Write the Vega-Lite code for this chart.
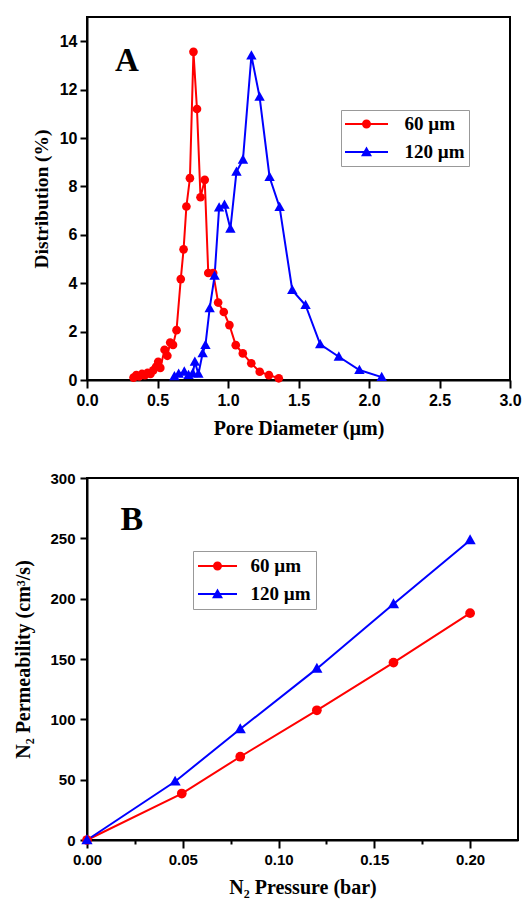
{
  "$schema": "https://vega.github.io/schema/vega-lite/v6.json",
  "autosize": {"type": "none"},
  "padding": {"left": 87, "top": 17, "right": 442, "bottom": 884},
  "background": "white",
  "bounds": "flush",
  "spacing": 98,
  "datasets": {
    "dist": [
      {"series": "60 µm", "d": 0.33, "p": 0.10},
      {"series": "60 µm", "d": 0.35, "p": 0.20},
      {"series": "60 µm", "d": 0.37, "p": 0.15},
      {"series": "60 µm", "d": 0.39, "p": 0.25},
      {"series": "60 µm", "d": 0.41, "p": 0.20},
      {"series": "60 µm", "d": 0.43, "p": 0.30},
      {"series": "60 µm", "d": 0.45, "p": 0.25},
      {"series": "60 µm", "d": 0.47, "p": 0.40},
      {"series": "60 µm", "d": 0.49, "p": 0.55},
      {"series": "60 µm", "d": 0.505, "p": 0.75},
      {"series": "60 µm", "d": 0.52, "p": 0.50},
      {"series": "60 µm", "d": 0.55, "p": 1.25},
      {"series": "60 µm", "d": 0.57, "p": 1.00},
      {"series": "60 µm", "d": 0.59, "p": 1.55},
      {"series": "60 µm", "d": 0.61, "p": 1.45},
      {"series": "60 µm", "d": 0.635, "p": 2.06},
      {"series": "60 µm", "d": 0.665, "p": 4.17},
      {"series": "60 µm", "d": 0.685, "p": 5.40},
      {"series": "60 µm", "d": 0.705, "p": 7.17},
      {"series": "60 µm", "d": 0.73, "p": 8.34},
      {"series": "60 µm", "d": 0.755, "p": 13.56},
      {"series": "60 µm", "d": 0.78, "p": 11.2},
      {"series": "60 µm", "d": 0.805, "p": 7.55},
      {"series": "60 µm", "d": 0.835, "p": 8.27},
      {"series": "60 µm", "d": 0.86, "p": 4.42},
      {"series": "60 µm", "d": 0.895, "p": 4.42},
      {"series": "60 µm", "d": 0.93, "p": 3.2},
      {"series": "60 µm", "d": 0.97, "p": 2.81},
      {"series": "60 µm", "d": 1.01, "p": 2.27},
      {"series": "60 µm", "d": 1.055, "p": 1.44},
      {"series": "60 µm", "d": 1.105, "p": 1.10},
      {"series": "60 µm", "d": 1.165, "p": 0.69},
      {"series": "60 µm", "d": 1.225, "p": 0.34},
      {"series": "60 µm", "d": 1.29, "p": 0.20},
      {"series": "60 µm", "d": 1.36, "p": 0.07},
      {"series": "120 µm", "d": 0.62, "p": 0.15},
      {"series": "120 µm", "d": 0.65, "p": 0.25},
      {"series": "120 µm", "d": 0.69, "p": 0.34},
      {"series": "120 µm", "d": 0.72, "p": 0.20},
      {"series": "120 µm", "d": 0.75, "p": 0.27},
      {"series": "120 µm", "d": 0.765, "p": 0.75},
      {"series": "120 µm", "d": 0.79, "p": 0.25},
      {"series": "120 µm", "d": 0.82, "p": 1.10},
      {"series": "120 µm", "d": 0.84, "p": 1.44},
      {"series": "120 µm", "d": 0.87, "p": 2.96},
      {"series": "120 µm", "d": 0.905, "p": 4.3},
      {"series": "120 µm", "d": 0.937, "p": 7.12},
      {"series": "120 µm", "d": 0.975, "p": 7.24},
      {"series": "120 µm", "d": 1.017, "p": 6.25},
      {"series": "120 µm", "d": 1.06, "p": 8.6},
      {"series": "120 µm", "d": 1.106, "p": 9.1},
      {"series": "120 µm", "d": 1.166, "p": 13.4},
      {"series": "120 µm", "d": 1.224, "p": 11.7},
      {"series": "120 µm", "d": 1.295, "p": 8.38},
      {"series": "120 µm", "d": 1.366, "p": 7.14},
      {"series": "120 µm", "d": 1.456, "p": 3.71},
      {"series": "120 µm", "d": 1.55, "p": 3.09},
      {"series": "120 µm", "d": 1.654, "p": 1.47},
      {"series": "120 µm", "d": 1.786, "p": 0.96},
      {"series": "120 µm", "d": 1.932, "p": 0.41},
      {"series": "120 µm", "d": 2.09, "p": 0.12}
    ],
    "perm": [
      {"series": "60 µm", "pr": 0.0, "q": 0},
      {"series": "60 µm", "pr": 0.0495, "q": 38.5},
      {"series": "60 µm", "pr": 0.08, "q": 69},
      {"series": "60 µm", "pr": 0.12, "q": 107.5},
      {"series": "60 µm", "pr": 0.16, "q": 147},
      {"series": "60 µm", "pr": 0.20, "q": 188},
      {"series": "120 µm", "pr": 0.0, "q": 0},
      {"series": "120 µm", "pr": 0.046, "q": 48.5},
      {"series": "120 µm", "pr": 0.08, "q": 92},
      {"series": "120 µm", "pr": 0.12, "q": 142},
      {"series": "120 µm", "pr": 0.16, "q": 195.5},
      {"series": "120 µm", "pr": 0.20, "q": 248.5}
    ],
    "tagA": [{"t": "A"}],
    "tagB": [{"t": "B"}]
  },
  "resolve": {
    "scale": {"color": "independent", "shape": "independent"},
    "legend": {"color": "independent", "shape": "independent"}
  },
  "vconcat": [
    {
      "width": 423,
      "height": 363,
      "layer": [
        {
          "data": {"name": "dist"},
          "mark": {"type": "line", "strokeWidth": 2, "clip": true},
          "encoding": {
            "x": {
              "field": "d", "type": "quantitative",
              "scale": {"domain": [0, 3], "nice": false, "zero": false},
              "axis": {
                "title": "Pore Diameter (µm)",
                "values": [0, 0.25, 0.5, 0.75, 1, 1.25, 1.5, 1.75, 2, 2.25, 2.5, 2.75, 3],
                "format": ".1f",
                "labelExpr": "abs(datum.value*2 - round(datum.value*2)) < 0.001 ? datum.label : ''",
                "tickSize": {"condition": {"test": "abs(datum.value*2 - round(datum.value*2)) < 0.001", "value": 8}, "value": 4},
                "labelFontSize": 16,
                "labelPadding": 4,
                "titleFontSize": 20,
                "titleBaseline": "alphabetic",
                "titleY": 54
              }
            },
            "y": {
              "field": "p", "type": "quantitative",
              "scale": {"domain": [0, 15], "nice": false},
              "axis": {
                "title": "Distribution (%)",
                "values": [0, 1, 2, 3, 4, 5, 6, 7, 8, 9, 10, 11, 12, 13, 14],
                "labelExpr": "datum.value % 2 === 0 ? datum.label : ''",
                "tickSize": {"condition": {"test": "datum.value % 2 === 0", "value": 7}, "value": 4},
                "labelFontSize": 16,
                "labelPadding": 3,
                "titleFontSize": 19.5,
                "titleBaseline": "alphabetic",
                "titleX": -40
              }
            },
            "color": {
              "field": "series", "type": "nominal",
              "scale": {"domain": ["60 µm", "120 µm"], "range": ["#ff0000", "#0000ff"]},
              "legend": {
                "title": null, "orient": "none", "legendX": 254, "legendY": 93,
                "padding": 4, "strokeColor": "#999999", "fillColor": "white",
                "symbolSize": 400, "symbolOpacity": 1, "symbolStrokeWidth": 0,
                "symbolOffset": 11.5, "labelOffset": 28, "rowPadding": 8,
                "labelFont": "Liberation Serif", "labelFontWeight": "bold", "labelFontSize": 19, "labelColor": "black"
              }
            }
          }
        },
        {
          "data": {"name": "dist"},
          "transform": [{"filter": "datum.series === '60 µm'"}],
          "mark": {"type": "point", "filled": true, "opacity": 1, "size": 75, "shape": "circle"},
          "encoding": {
            "x": {"field": "d", "type": "quantitative"},
            "y": {"field": "p", "type": "quantitative"},
            "color": {"field": "series", "type": "nominal"}
          }
        },
        {
          "data": {"name": "dist"},
          "transform": [{"filter": "datum.series === '120 µm'"}],
          "mark": {"type": "point", "filled": true, "opacity": 1, "size": 75, "shape": "M0,-1.25L1.2,0.9L-1.2,0.9Z"},
          "encoding": {
            "x": {"field": "d", "type": "quantitative"},
            "y": {"field": "p", "type": "quantitative"},
            "color": {"field": "series", "type": "nominal"}
          }
        },
        {
          "data": {"name": "dist"},
          "mark": {"type": "point", "filled": true, "opacity": 0, "size": 20},
          "encoding": {
            "x": {"field": "d", "type": "quantitative"},
            "y": {"field": "p", "type": "quantitative"},
            "color": {"field": "series", "type": "nominal"},
            "shape": {
              "field": "series", "type": "nominal",
              "scale": {"domain": ["60 µm", "120 µm"], "range": [
                "M-2.15,-0.1L2.15,-0.1L2.15,0.1L-2.15,0.1ZM-0.45,0A0.45,0.45,0,1,1,0.45,0A0.45,0.45,0,1,1,-0.45,0Z",
                "M-2.15,-0.1L2.15,-0.1L2.15,0.1L-2.15,0.1ZM0,-0.55L0.55,0.42L-0.55,0.42Z"
              ]},
              "legend": {
                "title": null, "orient": "none", "legendX": 254, "legendY": 93,
                "padding": 4, "strokeColor": "#999999", "fillColor": "white",
                "symbolSize": 400, "symbolOpacity": 1, "symbolStrokeWidth": 0,
                "symbolOffset": 11.5, "labelOffset": 28, "rowPadding": 8,
                "labelFont": "Liberation Serif", "labelFontWeight": "bold", "labelFontSize": 19, "labelColor": "black"
              }
            }
          }
        },
        {
          "data": {"name": "tagA"},
          "mark": {"type": "text", "font": "Liberation Serif", "fontWeight": "bold", "fontSize": 33, "align": "center", "baseline": "alphabetic", "color": "black"},
          "encoding": {
            "x": {"datum": 0.283, "type": "quantitative"},
            "y": {"datum": 12.76, "type": "quantitative"},
            "text": {"field": "t"}
          }
        }
      ]
    },
    {
      "width": 431,
      "height": 362,
      "layer": [
        {
          "data": {"name": "perm"},
          "mark": {"type": "line", "strokeWidth": 2},
          "encoding": {
            "x": {
              "field": "pr", "type": "quantitative",
              "scale": {"domain": [0, 0.225], "nice": false, "zero": false},
              "axis": {
                "title": "N₂ Pressure (bar)",
                "values": [0, 0.025, 0.05, 0.075, 0.1, 0.125, 0.15, 0.175, 0.2],
                "format": ".2f",
                "labelExpr": "abs(datum.value*20 - round(datum.value*20)) < 0.001 ? datum.label : ''",
                "tickSize": {"condition": {"test": "abs(datum.value*20 - round(datum.value*20)) < 0.001", "value": 8}, "value": 4},
                "labelFontSize": 15,
                "labelPadding": 4,
                "titleFontSize": 20,
                "titleBaseline": "alphabetic",
                "titleY": 53
              }
            },
            "y": {
              "field": "q", "type": "quantitative",
              "scale": {"domain": [0, 300], "nice": false},
              "axis": {
                "title": "N₂ Permeability (cm³/s)",
                "values": [0, 25, 50, 75, 100, 125, 150, 175, 200, 225, 250, 275, 300],
                "labelExpr": "datum.value % 50 === 0 ? datum.label : ''",
                "tickSize": {"condition": {"test": "datum.value % 50 === 0", "value": 7}, "value": 4},
                "labelFontSize": 15,
                "labelPadding": 5,
                "titleFontSize": 20,
                "titleBaseline": "alphabetic",
                "titleX": -58
              }
            },
            "color": {
              "field": "series", "type": "nominal",
              "scale": {"domain": ["60 µm", "120 µm"], "range": ["#ff0000", "#0000ff"]},
              "legend": {
                "title": null, "orient": "none", "legendX": 106, "legendY": 73,
                "padding": 5, "strokeColor": "#999999", "fillColor": "white",
                "symbolSize": 400, "symbolOpacity": 1, "symbolStrokeWidth": 0,
                "symbolOffset": 9.5, "labelOffset": 23, "rowPadding": 8,
                "labelFont": "Liberation Serif", "labelFontWeight": "bold", "labelFontSize": 19, "labelColor": "black"
              }
            }
          }
        },
        {
          "data": {"name": "perm"},
          "transform": [{"filter": "datum.series === '60 µm'"}],
          "mark": {"type": "point", "filled": true, "opacity": 1, "size": 95, "shape": "circle"},
          "encoding": {
            "x": {"field": "pr", "type": "quantitative"},
            "y": {"field": "q", "type": "quantitative"},
            "color": {"field": "series", "type": "nominal"}
          }
        },
        {
          "data": {"name": "perm"},
          "transform": [{"filter": "datum.series === '120 µm'"}],
          "mark": {"type": "point", "filled": true, "opacity": 1, "size": 95, "shape": "M0,-1.2L1.15,0.85L-1.15,0.85Z"},
          "encoding": {
            "x": {"field": "pr", "type": "quantitative"},
            "y": {"field": "q", "type": "quantitative"},
            "color": {"field": "series", "type": "nominal"}
          }
        },
        {
          "data": {"name": "perm"},
          "mark": {"type": "point", "filled": true, "opacity": 0, "size": 20},
          "encoding": {
            "x": {"field": "pr", "type": "quantitative"},
            "y": {"field": "q", "type": "quantitative"},
            "color": {"field": "series", "type": "nominal"},
            "shape": {
              "field": "series", "type": "nominal",
              "scale": {"domain": ["60 µm", "120 µm"], "range": [
                "M-1.95,-0.1L1.95,-0.1L1.95,0.1L-1.95,0.1ZM-0.45,0A0.45,0.45,0,1,1,0.45,0A0.45,0.45,0,1,1,-0.45,0Z",
                "M-1.95,-0.1L1.95,-0.1L1.95,0.1L-1.95,0.1ZM0,-0.55L0.55,0.42L-0.55,0.42Z"
              ]},
              "legend": {
                "title": null, "orient": "none", "legendX": 106, "legendY": 73,
                "padding": 5, "strokeColor": "#999999", "fillColor": "white",
                "symbolSize": 400, "symbolOpacity": 1, "symbolStrokeWidth": 0,
                "symbolOffset": 9.5, "labelOffset": 23, "rowPadding": 8,
                "labelFont": "Liberation Serif", "labelFontWeight": "bold", "labelFontSize": 19, "labelColor": "black"
              }
            }
          }
        },
        {
          "data": {"name": "tagB"},
          "mark": {"type": "text", "font": "Liberation Serif", "fontWeight": "bold", "fontSize": 34, "align": "center", "baseline": "alphabetic", "color": "black"},
          "encoding": {
            "x": {"datum": 0.0234, "type": "quantitative"},
            "y": {"datum": 257, "type": "quantitative"},
            "text": {"field": "t"}
          }
        }
      ]
    }
  ],
  "config": {
    "view": {"stroke": "black", "strokeWidth": 2},
    "legend": {"strokeColor": "#999999", "strokeWidth": 1, "fillColor": "white"},
    "axis": {
      "grid": false,
      "labelFlush": false,
      "domainColor": "black",
      "domainWidth": 2,
      "tickColor": "black",
      "tickWidth": 2,
      "labelFont": "Liberation Sans",
      "labelFontWeight": "bold",
      "labelColor": "black",
      "titleFont": "Liberation Serif",
      "titleFontWeight": "bold",
      "titleColor": "black"
    }
  }
}
